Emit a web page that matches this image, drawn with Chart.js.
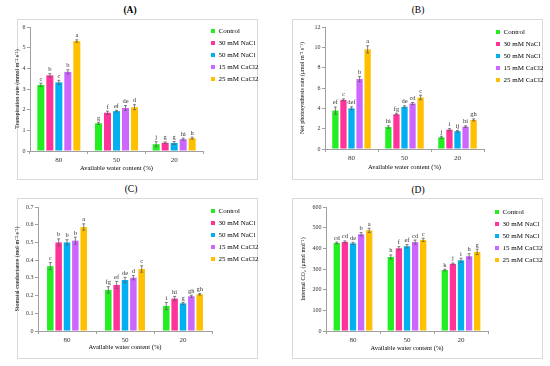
<!DOCTYPE html>
<html>
<head>
<meta charset="utf-8">
<script src="https://cdn.jsdelivr.net/npm/chart.js@4.4.1/dist/chart.umd.min.js"></script>
<style>
	body { margin: 0; background: #fff; }
	#page { position: relative; width: 550px; height: 366px; overflow: hidden; }
	.box { position: absolute; border: 1px solid #d9d9d9; box-sizing: border-box; }
	.titre { position: absolute; width: 40px; text-align: center; font: 9.5px "Liberation Serif", serif; color: #000; }
	canvas { position: absolute; }
</style>
</head>
<body>
<div id="page">
	<div class="box" style="left:17px;top:19px;width:241px;height:161px"></div>
	<div class="box" style="left:292px;top:19px;width:251px;height:161px"></div>
	<div class="box" style="left:17px;top:198px;width:241px;height:161px"></div>
	<div class="box" style="left:292px;top:198px;width:251px;height:161px"></div>
	<div class="titre" style="left:110px;top:5px;font-weight:bold">(A)</div>
	<div class="titre" style="left:398px;top:5px">(B)</div>
	<div class="titre" style="left:111px;top:184px">(C)</div>
	<div class="titre" style="left:398px;top:185px">(D)</div>
	<canvas id="chartA" width="275" height="183" style="left:0;top:0"></canvas>
	<canvas id="chartB" width="275" height="183" style="left:275px;top:0"></canvas>
	<canvas id="chartC" width="275" height="183" style="left:0;top:183px"></canvas>
	<canvas id="chartD" width="275" height="183" style="left:275px;top:183px"></canvas>
</div>
<script>
const categories = ["80", "50", "20"];
const treatments = ["Control", "30 mM NaCl", "50 mM NaCl", "15 mM CaCl2", "25 mM CaCl2"];

// one row per treatment, values for 80 / 50 / 20 % water content
const transpirationValues = [[3.2, 1.34, 0.33], [3.66, 1.85, 0.4], [3.32, 1.93, 0.39], [3.83, 2.08, 0.57], [5.32, 2.12, 0.62]];
const transpirationErrors = [[0.08, 0.05, 0.12], [0.08, 0.08, 0.04], [0.1, 0.04, 0.07], [0.1, 0.12, 0.05], [0.06, 0.12, 0.05]];
const transpirationLetters = [["c", "g", "j"], ["b", "f", "g"], ["c", "ef", "g"], ["b", "de", "hi"], ["a", "d", "h"]];

const photosynthesisValues = [[3.78, 2.16, 1.15], [4.83, 3.42, 1.9], [4.0, 4.15, 1.75], [6.88, 4.47, 2.2], [9.8, 5.07, 2.86]];
const photosynthesisErrors = [[0.35, 0.12, 0.1], [0.1, 0.1, 0.1], [0.15, 0.1, 0.08], [0.25, 0.1, 0.08], [0.35, 0.22, 0.1]];
const photosynthesisLetters = [["ef", "hi", "j"], ["c", "fg", "i"], ["def", "de", "ij"], ["b", "cd", "hi"], ["a", "c", "gh"]];

const conductanceValues = [[0.366, 0.232, 0.141], [0.5, 0.26, 0.183], [0.5, 0.288, 0.156], [0.51, 0.301, 0.196], [0.587, 0.35, 0.207]];
const conductanceErrors = [[0.02, 0.018, 0.02], [0.02, 0.02, 0.012], [0.015, 0.015, 0.006], [0.02, 0.012, 0.006], [0.018, 0.018, 0.004]];
const conductanceLetters = [["c", "fg", "i"], ["b", "ef", "hi"], ["b", "de", "g"], ["b", "d", "gh"], ["a", "c", "gh"]];

const co2Values = [[426, 358, 295], [431, 400, 325], [424, 410, 342], [468, 430, 362], [487, 441, 383]];
const co2Errors = [[4, 10, 4], [5, 8, 4], [5, 8, 10], [8, 10, 12], [10, 8, 13]];
const co2Letters = [["cd", "h", "k"], ["cd", "f", "j"], ["de", "ef", "i"], ["b", "cd", "h"], ["a", "c", "g"]];

const couleurs = ["#22ee22", "#ff3399", "#00b0f0", "#cc66ff", "#ffc000"];
const police = "'Liberation Serif', 'Times New Roman', serif";

// error bars + significance letters
const barresErreur = {
	id: "barresErreur",
	afterDatasetsDraw(chart) {
		const ctx = chart.ctx;
		const yScale = chart.scales.y;
		ctx.save();
		ctx.strokeStyle = "#606060";
		ctx.lineWidth = 0.8;
		ctx.fillStyle = "#333";
		ctx.font = "6.5px " + police;
		ctx.textAlign = "center";
		ctx.textBaseline = "bottom";
		chart.data.datasets.forEach((ds, i) => {
			const meta = chart.getDatasetMeta(i);
			meta.data.forEach((bar, j) => {
				const haut = yScale.getPixelForValue(ds.data[j] + ds.erreurs[j]);
				const bas = yScale.getPixelForValue(ds.data[j] - ds.erreurs[j]);
				ctx.beginPath();
				ctx.moveTo(bar.x, bas);
				ctx.lineTo(bar.x, haut);
				ctx.moveTo(bar.x - 1.5, haut);
				ctx.lineTo(bar.x + 1.5, haut);
				ctx.moveTo(bar.x - 1.5, bas);
				ctx.lineTo(bar.x + 1.5, bas);
				ctx.stroke();
				ctx.fillText(ds.lettres[j], bar.x, haut - 1);
			});
		});
		ctx.restore();
	},
};

// nudges the legend to its spot in the figure
const decaleLegende = {
	id: "decaleLegende",
	afterLayout(chart, args, opts) {
		const lg = chart.legend;
		lg.left += opts.dx;
		lg.right += opts.dx;
		lg.top += opts.dy;
		lg.bottom += opts.dy;
	},
};

function afficherPanneau(id, valeurs, erreurs, lettres, reglages) {
	const datasets = treatments.map((nom, i) => ({
		label: nom,
		data: valeurs[i],
		erreurs: erreurs[i],
		lettres: lettres[i],
		backgroundColor: couleurs[i],
		borderWidth: 0,
		categoryPercentage: reglages.categorie,
		barPercentage: 0.78,
	}));

	new Chart(document.getElementById(id), {
		type: "bar",
		data: { labels: categories, datasets: datasets },
		plugins: [barresErreur, decaleLegende],
		options: {
			responsive: false,
			animation: false,
			devicePixelRatio: 1,
			layout: { padding: reglages.marges },
			plugins: {
				tooltip: { enabled: false },
				decaleLegende: { dx: reglages.dx, dy: reglages.dy },
				legend: {
					position: "right",
					align: "start",
					maxWidth: 60,
					labels: {
						boxWidth: 4,
						boxHeight: 4,
						padding: 5,
						color: "#000",
						font: { size: 7, family: police },
					},
				},
			},
			scales: {
				x: {
					afterFit: (scale) => { scale.height = reglages.hauteurX; },
					grid: { drawOnChartArea: false, tickLength: 3, color: "#a0a0a0" },
					border: { color: "#a0a0a0" },
					ticks: { color: "#333", padding: 1.5, font: { size: 7, family: police } },
					title: {
						display: true,
						text: "Available water content (%)",
						color: "#000",
						font: { size: 6.5, family: police },
						padding: { top: 0, bottom: reglages.titreX },
					},
				},
				y: {
					min: 0,
					max: reglages.max,
					afterFit: (scale) => { scale.width = reglages.largeurY; },
					grid: { drawOnChartArea: false, tickLength: 3, color: "#a0a0a0" },
					border: { color: "#a0a0a0" },
					ticks: { stepSize: reglages.pas, color: "#333", padding: 1.5, font: { size: 6, family: police } },
					title: {
						display: true,
						text: reglages.titreY,
						color: "#000",
						font: { size: 6, family: police },
						padding: { top: reglages.posTitreY, bottom: 0 },
					},
				},
			},
		},
	});
}

afficherPanneau("chartA", transpirationValues, transpirationErrors, transpirationLetters, {
	titreY: "Transpiration rate (mmol m⁻² s⁻¹)", max: 6, pas: 1,
	marges: { top: 27, right: 12, left: 0, bottom: 0 }, largeurY: 30, hauteurX: 32,
	posTitreY: 14, titreX: 11, categorie: 0.78, dx: 3, dy: -4.5,
});
afficherPanneau("chartB", photosynthesisValues, photosynthesisErrors, photosynthesisLetters, {
	titreY: "Net photosynthesis rate (μmol m⁻² s⁻¹)", max: 12, pas: 2,
	marges: { top: 27, right: 6, left: 0, bottom: 0 }, largeurY: 50, hauteurX: 34,
	posTitreY: 24, titreX: 12, categorie: 0.76, dx: 7, dy: -3.5,
});
afficherPanneau("chartC", conductanceValues, conductanceErrors, conductanceLetters, {
	titreY: "Stomatal conductance (mol m⁻² s⁻¹)", max: 0.7, pas: 0.1,
	marges: { top: 24, right: 3, left: 0, bottom: 0 }, largeurY: 38, hauteurX: 35,
	posTitreY: 14, titreX: 15, categorie: 0.72, dx: -6, dy: -4.5,
});
afficherPanneau("chartD", co2Values, co2Errors, co2Letters, {
	titreY: "Internal CO₂ (μmol mol⁻¹)", max: 600, pas: 100,
	marges: { top: 24, right: 2, left: 0, bottom: 0 }, largeurY: 51, hauteurX: 35,
	posTitreY: 25, titreX: 14, categorie: 0.75, dx: 2, dy: -3.5,
});
</script>
</body>
</html>
